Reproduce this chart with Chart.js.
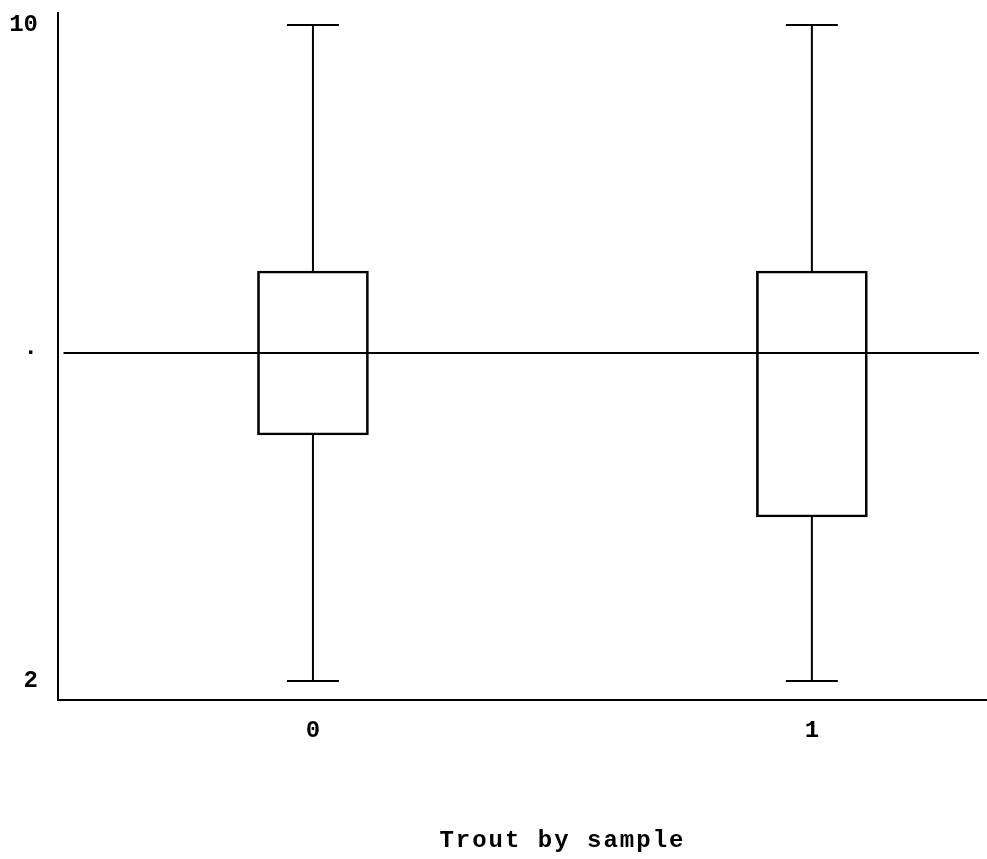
<!DOCTYPE html>
<html>
<head>
<meta charset="utf-8">
<script src="https://cdn.jsdelivr.net/npm/chart.js@4/dist/chart.umd.min.js"></script>
<style>
  html, body { margin: 0; padding: 0; background: #fff; }
  #wrap { width: 987px; height: 859px; position: relative; }
</style>
</head>
<body>
<div id="wrap"><canvas id="chart"></canvas></div>
<script>
// Box plot summary for the trout counts, one box per sample.
const samples = ['0', '1'];
const sampleX = [0, 1];
const minValues = [2, 2];
const q1Values = [5, 4];
const q3Values = [7, 7];
const maxValues = [10, 10];
const overallMedian = 6;
const yTickValues = [2, 6, 10];
const yTickLabels = ['2', '\u00b7', '10'];
const caption = 'Trout by sample';

const ink = '#000';
const monoFont = { family: '"Liberation Mono", "DejaVu Sans Mono", monospace', size: 24, weight: 'bold' };

// Boxes are floating bars from Q1 to Q3.
const boxes = {
  type: 'bar',
  data: sampleX.map((x, i) => ({ x: x, y: [q1Values[i], q3Values[i]] })),
  backgroundColor: 'rgba(0,0,0,0)',
  borderColor: ink,
  borderWidth: 2,
  borderSkipped: false,
  barThickness: 111,
  order: 2
};

// Whiskers with a cap drawn as a 'line' point at the far end.
function whisker(x, from, to, capIndex) {
  return {
    type: 'line',
    data: [{ x: x, y: from }, { x: x, y: to }],
    borderColor: ink,
    borderWidth: 2,
    pointStyle: 'line',
    pointBorderColor: ink,
    pointBorderWidth: 2,
    pointRadius: (ctx) => ctx.dataIndex === capIndex ? 26 : 0,
    order: 1
  };
}

const whiskers = [];
sampleX.forEach((x, i) => {
  whiskers.push(whisker(x, minValues[i], q1Values[i], 0));
  whiskers.push(whisker(x, q3Values[i], maxValues[i], 1));
});

// Overall median line running across both samples.
const medianLine = {
  type: 'line',
  data: [{ x: -0.5, y: overallMedian }, { x: 1.335, y: overallMedian }],
  borderColor: ink,
  borderWidth: 2,
  pointRadius: 0,
  order: 0
};

// Caption sits centred between the two samples, well below the axis.
const captionPlugin = {
  id: 'caption',
  afterDraw(chart) {
    const { ctx, scales } = chart;
    ctx.save();
    ctx.fillStyle = ink;
    ctx.font = 'bold 24px "Liberation Mono", "DejaVu Sans Mono", monospace';
    ctx.letterSpacing = '2px';
    ctx.textAlign = 'center';
    ctx.textBaseline = 'middle';
    ctx.fillText(caption, scales.x.getPixelForValue(0.5), chart.chartArea.bottom + 141);
    ctx.restore();
  }
};

Chart.defaults.font = monoFont;
Chart.defaults.color = ink;

new Chart(document.getElementById('chart'), {
  data: { datasets: [medianLine, ...whiskers, boxes] },
  plugins: [captionPlugin],
  options: {
    responsive: true,
    maintainAspectRatio: false,
    animation: false,
    layout: { autoPadding: false, padding: { top: 13, right: 0, bottom: 0, left: 0 } },
    plugins: {
      legend: { display: false },
      tooltip: { enabled: false },
      title: { display: false }
    },
    scales: {
      x: {
        type: 'linear',
        offset: false,
        min: -0.511,
        max: 1.351,
        grid: { display: false, drawTicks: false },
        border: { display: true, color: ink, width: 2 },
        afterBuildTicks: (axis) => { axis.ticks = sampleX.map((v) => ({ value: v })); },
        afterFit: (axis) => {
          axis.height = 159;
          axis.paddingLeft = 0;
          axis.paddingRight = 0;
        },
        ticks: {
          padding: 17,
          font: monoFont,
          color: ink,
          callback: (value) => samples[sampleX.indexOf(value)]
        }
      },
      y: {
        type: 'linear',
        min: 1.768,
        max: 10.146,
        grid: { display: false, drawTicks: false },
        border: { display: true, color: ink, width: 2 },
        afterBuildTicks: (axis) => { axis.ticks = yTickValues.map((v) => ({ value: v })); },
        afterFit: (axis) => {
          axis.width = 58;
          axis.paddingTop = 0;
          axis.paddingBottom = 0;
        },
        ticks: {
          padding: 20,
          font: monoFont,
          color: ink,
          callback: (value) => yTickLabels[yTickValues.indexOf(value)]
        }
      }
    }
  }
});
</script>
</body>
</html>
